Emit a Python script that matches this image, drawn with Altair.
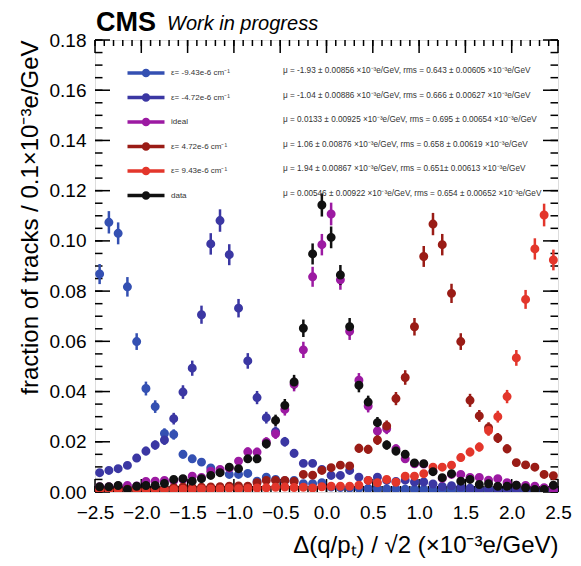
import altair as alt
import pandas as pd

# ---------------- data ----------------
bin_centers = [round(-2.45 + 0.1 * i, 2) for i in range(50)]

series_names = ["ε= -9.43e-6 cm⁻¹", "ε= -4.72e-6 cm⁻¹", "ideal",
                "ε= 4.72e-6 cm⁻¹", "ε= 9.43e-6 cm⁻¹", "data"]
series_colors = ["#3450b2", "#3b37a3", "#9c1aa2", "#9a1c16", "#e3362b", "#111111"]

stats_text = [
    "μ = -1.93 ± 0.00856 ×10⁻³e/GeV, rms = 0.643 ± 0.00605 ×10⁻³e/GeV",
    "μ = -1.04 ± 0.00886 ×10⁻³e/GeV, rms = 0.666 ± 0.00627 ×10⁻³e/GeV",
    "μ = 0.0133 ± 0.00925 ×10⁻³e/GeV, rms = 0.695 ± 0.00654 ×10⁻³e/GeV",
    "μ = 1.06 ± 0.00876 ×10⁻³e/GeV, rms = 0.658 ± 0.00619 ×10⁻³e/GeV",
    "μ = 1.94 ± 0.00867 ×10⁻³e/GeV, rms = 0.651± 0.00613 ×10⁻³e/GeV",
    "μ = 0.00546 ± 0.00922 ×10⁻³e/GeV, rms = 0.654 ± 0.00652 ×10⁻³e/GeV",
]

eps_m943 = [0.0868, 0.1074, 0.1030, 0.0817, 0.0599, 0.0412, 0.0340, 0.0233, 0.0229, 0.0150,
            0.0132, 0.0119, 0.0096, 0.0079, 0.0070, 0.0070, 0.0074, 0.0043, 0.0059, 0.0050,
            0.0045, 0.0046, 0.0033, 0.0033, 0.0037, 0.0020, 0.0018, 0.0016, 0.0015, 0.0014,
            0.0013, 0.0012, 0.0012, 0.0011, 0.0010, 0.0010, 0.0009, 0.0009, 0.0008, 0.0008,
            0.0008, 0.0007, 0.0007, 0.0007, 0.0006, 0.0006, 0.0006, 0.0006, 0.0005, 0.0005]
eps_m472 = [0.0077, 0.0086, 0.0093, 0.0106, 0.0135, 0.0163, 0.0187, 0.0207, 0.0292, 0.0398,
            0.0493, 0.0706, 0.0988, 0.1081, 0.0945, 0.0732, 0.0522, 0.0376, 0.0296, 0.0240,
            0.0200, 0.0154, 0.0114, 0.0114, 0.0090, 0.0066, 0.0066, 0.0086, 0.0059, 0.0046,
            0.0059, 0.0046, 0.0042, 0.0047, 0.0040, 0.0040, 0.0032, 0.0022, 0.0025, 0.0020,
            0.0015, 0.0012, 0.0012, 0.0011, 0.0010, 0.0010, 0.0009, 0.0009, 0.0008, 0.0008]
ideal = [0.0021, 0.0021, 0.0024, 0.0026, 0.0024, 0.0042, 0.0043, 0.0046, 0.0045, 0.0050,
         0.0063, 0.0058, 0.0083, 0.0090, 0.0095, 0.0123, 0.0160, 0.0159, 0.0199, 0.0232,
         0.0329, 0.0429, 0.0566, 0.0857, 0.0985, 0.1107, 0.0845, 0.0640, 0.0445, 0.0342,
         0.0243, 0.0252, 0.0172, 0.0132, 0.0112, 0.0111, 0.0083, 0.0054, 0.0070, 0.0070,
         0.0058, 0.0058, 0.0047, 0.0053, 0.0037, 0.0027, 0.0026, 0.0023, 0.0017, 0.0008]
eps_p472 = [0.0010, 0.0010, 0.0011, 0.0011, 0.0012, 0.0012, 0.0013, 0.0014, 0.0018, 0.0020,
            0.0018, 0.0019, 0.0020, 0.0021, 0.0023, 0.0024, 0.0023, 0.0037, 0.0046, 0.0046,
            0.0046, 0.0042, 0.0070, 0.0067, 0.0086, 0.0097, 0.0107, 0.0104, 0.0174, 0.0170,
            0.0207, 0.0263, 0.0372, 0.0456, 0.0658, 0.0938, 0.1067, 0.0985, 0.0791, 0.0599,
            0.0365, 0.0303, 0.0256, 0.0215, 0.0172, 0.0117, 0.0108, 0.0099, 0.0070, 0.0065]
eps_p943 = [0.0008, 0.0008, 0.0008, 0.0008, 0.0009, 0.0009, 0.0009, 0.0010, 0.0010, 0.0011,
            0.0010, 0.0012, 0.0012, 0.0012, 0.0015, 0.0013, 0.0014, 0.0016, 0.0017, 0.0019,
            0.0020, 0.0018, 0.0019, 0.0016, 0.0021, 0.0023, 0.0023, 0.0023, 0.0027, 0.0046,
            0.0037, 0.0050, 0.0039, 0.0063, 0.0063, 0.0073, 0.0099, 0.0099, 0.0107, 0.0137,
            0.0159, 0.0179, 0.0245, 0.0300, 0.0380, 0.0534, 0.0767, 0.0968, 0.1103, 0.0924]
data_vals = [0.0021, 0.0021, 0.0026, 0.0010, 0.0023, 0.0026, 0.0026, 0.0034, 0.0050, 0.0053,
             0.0043, 0.0053, 0.0066, 0.0077, 0.0099, 0.0093, 0.0132, 0.0132, 0.0192, 0.0285,
             0.0345, 0.0438, 0.0652, 0.0948, 0.1143, 0.1014, 0.0864, 0.0658, 0.0425, 0.0358,
             0.0276, 0.0187, 0.0163, 0.0150, 0.0116, 0.0113, 0.0081, 0.0057, 0.0073, 0.0043,
             0.0050, 0.0030, 0.0033, 0.0023, 0.0023, 0.0027, 0.0017, 0.0010, 0.0010, 0.0027]

x_major = [-2.5, -2.0, -1.5, -1.0, -0.5, 0.0, 0.5, 1.0, 1.5, 2.0, 2.5]
x_minor = [round(-2.5 + 0.1 * i, 2) for i in range(51)]
y_major = [0.0, 0.02, 0.04, 0.06, 0.08, 0.10, 0.12, 0.14, 0.16, 0.18]
y_minor = [round(0.005 * i, 3) for i in range(37)]

all_series = [eps_m943, eps_m472, ideal, eps_p472, eps_p943, data_vals]
rows = []
for name, vals in zip(series_names, all_series):
    for xc, v in zip(bin_centers, vals):
        rows.append({"series": name, "x": xc, "y": v})
df = pd.DataFrame(rows)

# ---------------- chart ----------------
W, H = 463, 452
FONT = "Liberation Sans"

xscale = alt.Scale(domain=[-2.5, 2.5], nice=False, zero=False)
yscale = alt.Scale(domain=[0, 0.18], nice=False, zero=False)

xaxis = alt.Axis(values=x_major, format=".1f", ticks=False, tickSize=0, domain=False, grid=False,
                 labelFontSize=19, labelPadding=11, labelColor="black", labelFont=FONT,
                 labelFlush=False, labelOverlap=False,
                 title="Δ(q/pₜ) / √2 (×10⁻³e/GeV)", titleFont=FONT, titleFontSize=24,
                 titleFontWeight="normal", titleColor="black", titleAnchor="end", titlePadding=11)
yaxis = alt.Axis(values=y_major, format=".2f", ticks=False, tickSize=0, domain=False, grid=False,
                 labelFontSize=19, labelPadding=9, labelColor="black", labelFont=FONT,
                 labelFlush=False, labelOverlap=False,
                 title="fraction of tracks / 0.1×10⁻³e/GeV", titleFont=FONT, titleFontSize=24,
                 titleFontWeight="normal", titleColor="black", titleAnchor="end", titlePadding=7)

X = alt.X("x:Q", scale=xscale, axis=xaxis)
Y = alt.Y("y:Q", scale=yscale, axis=yaxis)

color_scale = alt.Scale(domain=series_names, range=series_colors)

legend_path = ("M-3.7,0L3.7,0"
               "M0.52,0A0.52,0.52,0,1,1,-0.52,0A0.52,0.52,0,1,1,0.52,0"
               "M0.2,0A0.2,0.2,0,1,1,-0.2,0A0.2,0.2,0,1,1,0.2,0")

main_legend = alt.Legend(orient="none", legendX=44, legendY=26, title=None,
                         symbolType=legend_path, symbolSize=100, symbolStrokeWidth=3.3,
                         labelFontSize=8, labelFont=FONT, labelColor="#333333",
                         labelOffset=18, rowPadding=4.5, padding=0)
stats_legend = alt.Legend(orient="none", legendX=176, legendY=26, title=None,
                          symbolSize=100, symbolOpacity=0, symbolStrokeWidth=0,
                          labelFontSize=8.2, labelFont=FONT, labelColor="#333333",
                          labelOffset=2, rowPadding=14.5, padding=0, labelLimit=400)

errbars = alt.Chart(df).transform_calculate(
    lo="datum.y - 0.0136*sqrt(datum.y)", hi="datum.y + 0.0136*sqrt(datum.y)"
).mark_rule(strokeWidth=2.5, clip=True).encode(
    x=X, y=alt.Y("lo:Q", scale=yscale, axis=yaxis), y2="hi:Q",
    color=alt.Color("series:N", scale=color_scale, legend=main_legend)
)

points = alt.Chart(df).mark_point(filled=False, size=20, strokeWidth=4.5, opacity=1, clip=True).encode(
    x=X, y=Y, color=alt.Color("series:N", scale=color_scale, legend=main_legend)
)

stats_layer = alt.Chart(pd.DataFrame({"stat": stats_text})).mark_point(opacity=0).encode(
    shape=alt.Shape("stat:N", scale=alt.Scale(domain=stats_text), legend=stats_legend)
)

def xticks(vals, length, width):
    d = pd.DataFrame({"x": vals})
    bot = alt.Chart(d).mark_rule(color="black", strokeWidth=width).encode(
        x=X, y=alt.value(H), y2=alt.value(H - length))
    top = alt.Chart(d).mark_rule(color="black", strokeWidth=width).encode(
        x=X, y=alt.value(0), y2=alt.value(length))
    return [bot, top]

def yticks(vals, length, width):
    d = pd.DataFrame({"y": vals})
    left = alt.Chart(d).mark_rule(color="black", strokeWidth=width).encode(
        y=Y, x=alt.value(0), x2=alt.value(length))
    right = alt.Chart(d).mark_rule(color="black", strokeWidth=width).encode(
        y=Y, x=alt.value(W), x2=alt.value(W - length))
    return [left, right]

tick_layers = (xticks(x_minor, 6, 1.5) + xticks(x_major, 13, 1.5)
               + yticks(y_minor, 7.5, 1.5) + yticks(y_major, 15, 1.5))

one = pd.DataFrame({"a": [0]})
cms = alt.Chart(one).mark_text(text="CMS", font=FONT, fontSize=27, fontWeight="bold",
                               align="left", baseline="alphabetic", color="black").encode(
    x=alt.value(1), y=alt.value(-9))
wip = alt.Chart(one).mark_text(text="Work in progress", font=FONT, fontSize=20, fontStyle="italic",
                               align="left", baseline="alphabetic", color="black").encode(
    x=alt.value(72), y=alt.value(-10))

chart = alt.layer(*tick_layers, errbars, points, stats_layer, cms, wip).properties(
    width=W, height=H,
    padding={"left": 87, "top": 32, "right": 15, "bottom": 70},
    autosize=alt.AutoSizeParams(type="none"),
).configure_view(stroke="black", strokeWidth=2).configure(background="white")

chart.save("out.html", embed_options={"renderer": "svg", "actions": False})
